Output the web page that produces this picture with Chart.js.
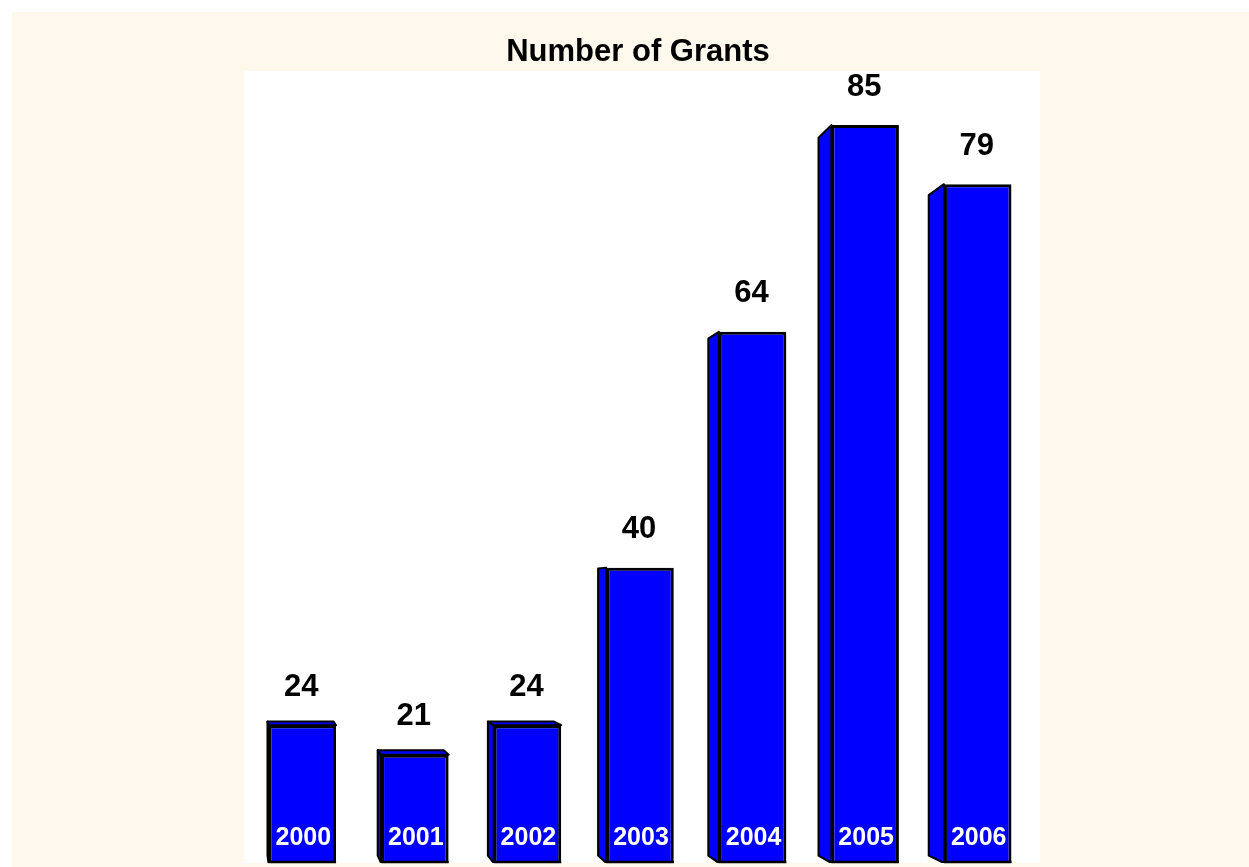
<!DOCTYPE html>
<html>
<head>
<meta charset="utf-8">
<script src="https://cdn.jsdelivr.net/npm/chart.js@4.4.1/dist/chart.umd.min.js"></script>
<style>
  html, body { margin: 0; padding: 0; background: #ffffff; }
  #wrap { position: absolute; left: 0; top: 0; width: 1249px; height: 867px; }
</style>
</head>
<body>
<div id="wrap"><canvas id="myChart" width="1249" height="867"></canvas></div>
<script>
const years = ['2000', '2001', '2002', '2003', '2004', '2005', '2006'];
const grants = [24, 21, 24, 40, 64, 85, 79];
const chartTitle = 'Number of Grants';

// fake 3d look: back face is pulled a bit toward a point left of the bars
const depth = { x0: 219, y0: 590, kx: 0.021, ky: 0.027 };

function back(px, py) {
    return [px + depth.kx * (depth.x0 - px), py + depth.ky * (depth.y0 - py)];
}

const framePlugin = {
    id: 'frame',
    beforeDraw(chart) {
        const ctx = chart.ctx;
        const a = chart.chartArea;
        ctx.save();
        ctx.fillStyle = '#fef9ec';
        ctx.fillRect(12, 12, chart.width - 12, chart.height - 12);
        ctx.fillStyle = '#ffffff';
        ctx.fillRect(a.left - 2, a.top, a.right - a.left + 8, a.bottom - a.top);
        ctx.fillStyle = '#000000';
        ctx.font = 'bold 31px "Liberation Sans", Arial, sans-serif';
        ctx.textAlign = 'center';
        ctx.textBaseline = 'middle';
        ctx.fillText(chartTitle, (a.left + a.right) / 2 - 2, a.top - 19);
        ctx.restore();
    },
    beforeDatasetsDraw(chart) {
        const ctx = chart.ctx;
        const a = chart.chartArea;
        const meta = chart.getDatasetMeta(0);
        ctx.save();
        ctx.beginPath();
        ctx.rect(a.left - 20, a.top, a.right - a.left + 40, a.bottom - a.top);
        ctx.clip();
        ctx.fillStyle = '#0000ff';
        ctx.strokeStyle = '#000000';
        ctx.lineWidth = 2;
        ctx.lineJoin = 'round';
        meta.data.forEach(bar => {
            const l = bar.x - bar.width / 2;
            const r = bar.x + bar.width / 2;
            const t = bar.y;
            const b = a.bottom;
            const blt = back(l, t), blb = back(l, b), brt = back(r, t);
            // left side face
            ctx.beginPath();
            ctx.moveTo(l, t);
            ctx.lineTo(blt[0], blt[1]);
            ctx.lineTo(blb[0], blb[1]);
            ctx.lineTo(l, b);
            ctx.closePath();
            ctx.fill();
            ctx.stroke();
            // top face when looking down on it
            if (blt[1] < t - 1) {
                ctx.beginPath();
                ctx.moveTo(l, t);
                ctx.lineTo(r, t);
                ctx.lineTo(brt[0], brt[1]);
                ctx.lineTo(blt[0], blt[1]);
                ctx.closePath();
                ctx.fill();
                ctx.stroke();
            }
        });
        ctx.restore();
    },
    afterDatasetsDraw(chart) {
        const ctx = chart.ctx;
        const a = chart.chartArea;
        const meta = chart.getDatasetMeta(0);
        ctx.save();
        ctx.textAlign = 'center';
        ctx.textBaseline = 'middle';
        meta.data.forEach((bar, i) => {
            const l = bar.x - bar.width / 2;
            const r = bar.x + bar.width / 2;
            ctx.strokeStyle = '#000000';
            ctx.lineWidth = 2.5;
            ctx.beginPath();
            ctx.moveTo(l, a.bottom - 1);
            ctx.lineTo(r, a.bottom - 1);
            ctx.stroke();

            ctx.fillStyle = '#000000';
            ctx.font = 'bold 31px "Liberation Sans", Arial, sans-serif';
            ctx.fillText(String(grants[i]), bar.x - 1, bar.y - 38);

            ctx.fillStyle = '#ffffff';
            ctx.font = 'bold 25px "Liberation Sans", Arial, sans-serif';
            ctx.fillText(years[i], bar.x + 1, a.bottom - 25);
        });
        ctx.restore();
    }
};

const myChart = new Chart(document.getElementById('myChart').getContext('2d'), {
    type: 'bar',
    data: {
        labels: years,
        datasets: [{
            label: chartTitle,
            data: grants,
            backgroundColor: '#0000ff',
            borderColor: '#000000',
            borderWidth: 3,
            borderSkipped: 'start',
            barPercentage: 0.6,
            categoryPercentage: 1.0
        }]
    },
    options: {
        responsive: false,
        animation: false,
        layout: {
            padding: { left: 246, right: 215, top: 71, bottom: 4 }
        },
        scales: {
            x: { display: false },
            y: { display: false, min: 10, max: 90.5 }
        },
        plugins: {
            legend: { display: false },
            tooltip: { enabled: false }
        }
    },
    plugins: [framePlugin]
});
</script>
</body>
</html>
